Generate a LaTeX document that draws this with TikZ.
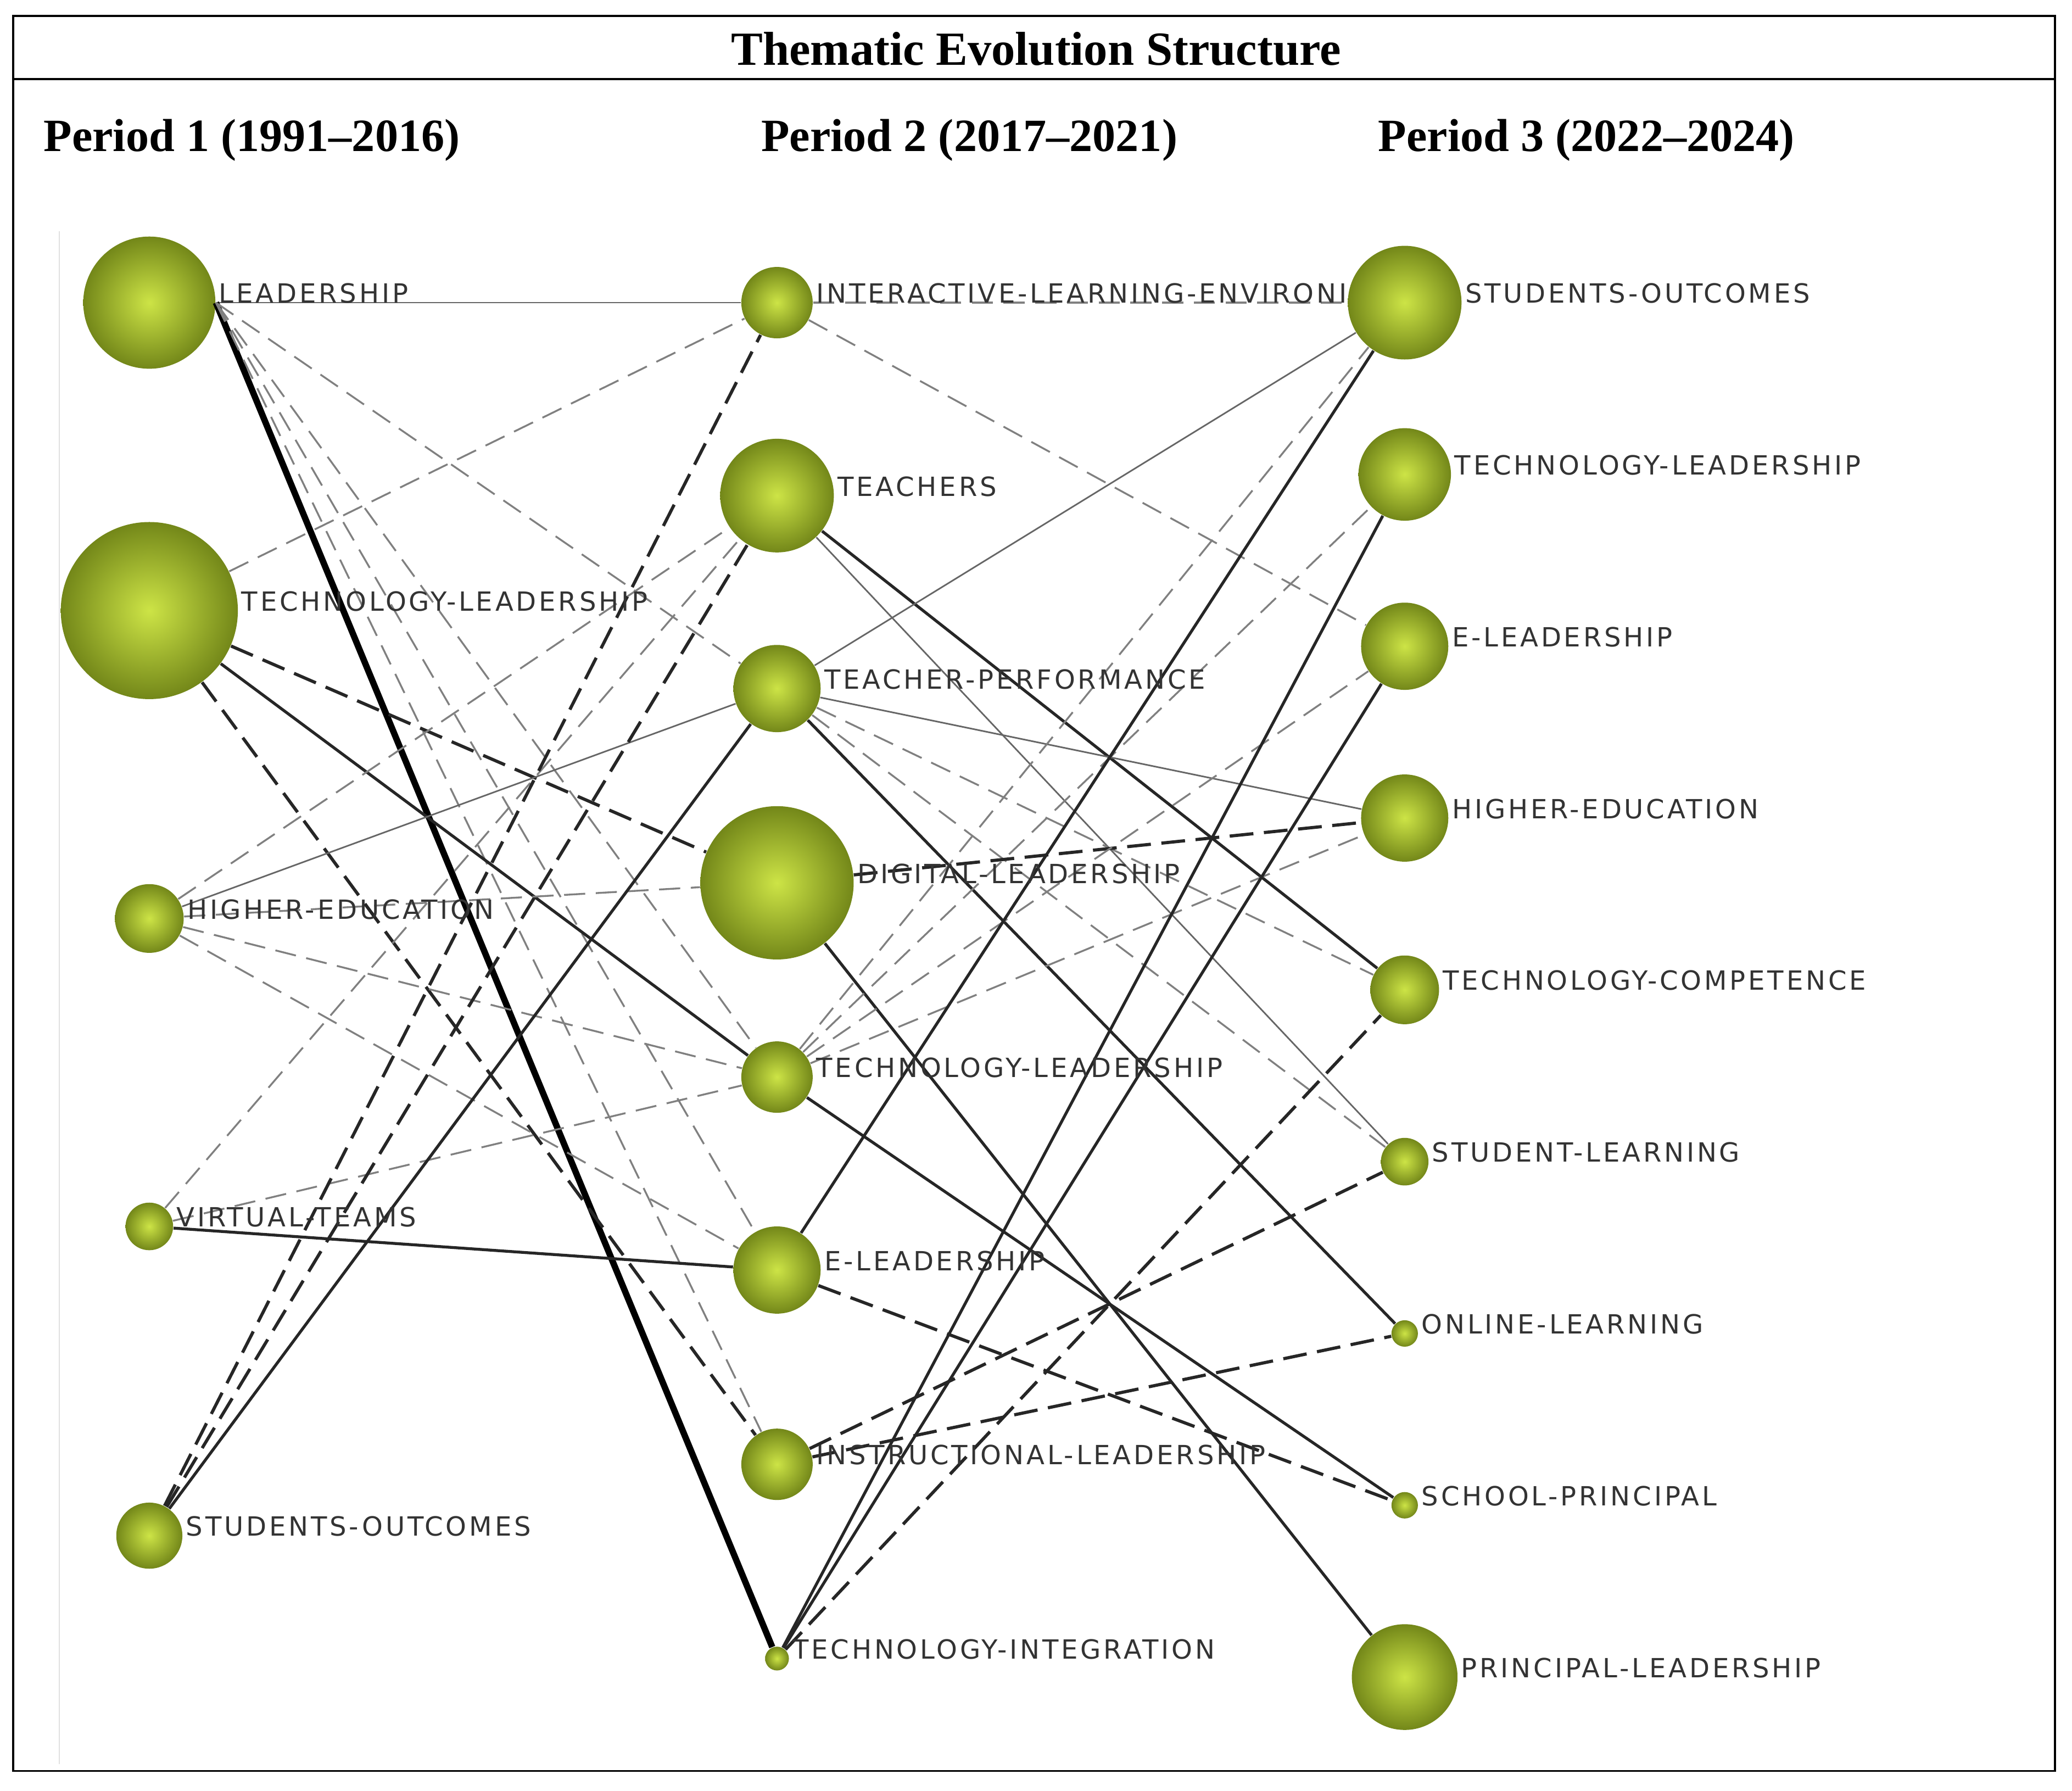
\documentclass[tikz,border=0pt]{standalone}
\usepackage{fontspec}
\setmainfont{Liberation Serif}
\newfontfamily\labfont[LetterSpace=10]{DejaVu Sans}
\usetikzlibrary{positioning}
\tikzset{
  theme/.style={circle, draw=none, inner color={rgb,255:red,205;green,228;blue,70}, outer color={rgb,255:red,115;green,135;blue,25}, minimum size=#1pt, inner sep=0pt},
  lab/.style={anchor=west, inner sep=1pt, yshift=3.5pt, font=\labfont\fontsize{10}{12}\selectfont, text=black!80},
  head/.style={anchor=west, font=\bfseries\fontsize{17.5}{20}\selectfont},
  lnthin/.style={draw=black!60, line width=0.6pt},
  lnsolid/.style={draw=black!85, line width=1.1pt},
  lnheavy/.style={draw=black, line width=2.4pt},
  lndash/.style={draw=black!50, line width=0.7pt, dash pattern=on 8pt off 4pt},
  lnbdash/.style={draw=black!85, line width=1.2pt, dash pattern=on 9pt off 4pt},
}
\begin{document}
\begin{tikzpicture}[x=0.5pt, y=-0.5pt]
\useasboundingbox (0,0) rectangle (1568,1355);
\draw[line width=0.8pt] (10,12) rectangle (1555,1340);
\draw[line width=0.8pt] (10,60) -- (1555,60);
\draw[black!12] (45,175) -- (45,1335);
\node[font=\bfseries\fontsize{18}{21}\selectfont] (title) at (784,37) {Thematic Evolution Structure};
\node[head] (p1) at (26,106) {Period 1 (1991--2016)};
\node[head] (p2) at (569,106) {Period 2 (2017--2021)};
\node[head] (p3) at (1036,106) {Period 3 (2022--2024)};
% period 1
\draw (113,229) node[theme=50](L1){};
\draw (113,462) node[theme=67](TL1){};
\draw (113,695) node[theme=26](HE1){};
\draw (113,928) node[theme=18](VT1){};
\draw (113,1162) node[theme=25](SO1){};
% period 2
\draw (588,229) node[theme=27](ILE){};
\draw (588,375) node[theme=43](T){};
\draw (588,521) node[theme=33](TP){};
\draw (588,668) node[theme=58](DL){};
\draw (588,815) node[theme=27](TL2){};
\draw (588,961) node[theme=33](EL2){};
\draw (588,1108) node[theme=27](IL){};
\draw (588,1255) node[theme=9](TI){};
% period 3
\draw (1063,229) node[theme=43](SO3){};
\draw (1063,359) node[theme=35](TL3){};
\draw (1063,489) node[theme=33](EL3){};
\draw (1063,619) node[theme=33](HE3){};
\draw (1063,749) node[theme=26](TC){};
\draw (1063,879) node[theme=18](SL){};
\draw (1063,1009) node[theme=10](OL){};
\draw (1063,1139) node[theme=10](SP){};
\draw (1063,1269) node[theme=40](PL){};
% links 1 -> 2
\path[lnthin] (L1) edge (ILE);
\path[lnheavy] (L1.east) edge (TI);
\path[lndash] (L1.east) edge (TP) (L1.east) edge (TL2) (L1.east) edge (EL2) (L1.east) edge (IL);
\path[lndash] (TL1) edge (ILE);
\path[lnbdash] (TL1) edge (DL);
\path[lnsolid] (TL1) edge (TL2);
\path[lnbdash] (TL1) edge (IL);
\path[lnthin] (HE1) edge (TP);
\path[lndash] (HE1) edge (DL) (HE1) edge (TL2) (HE1) edge (EL2) (HE1) edge (T);
\path[lnsolid] (VT1) edge (EL2);
\path[lndash] (VT1) edge (TL2) (VT1) edge (T);
\path[lnbdash] (SO1) edge (ILE) (SO1) edge (T);
\path[lnsolid] (SO1) edge (TP);
% links 2 -> 3
\path[lndash] (ILE) edge (SO3) (ILE) edge (EL3);
\path[lnthin] (T) edge (SL);
\path[lnsolid] (T) edge (TC);
\path[lnthin] (TP) edge (HE3) (TP) edge (SO3);
\path[lnsolid] (TP) edge (OL);
\path[lndash] (TP) edge (TC) (TP) edge (SL);
\path[lnbdash] (DL) edge (HE3);
\path[lnsolid] (DL) edge (PL);
\path[lndash] (TL2) edge (SO3) (TL2) edge (TL3) (TL2) edge (EL3) (TL2) edge (HE3);
\path[lnsolid] (TL2) edge (SP);
\path[lnsolid] (EL2) edge (SO3);
\path[lnbdash] (EL2) edge (SP);
\path[lnbdash] (IL) edge (SL) (IL) edge (OL);
\path[lnsolid] (TI) edge (TL3) (TI) edge (EL3);
\path[lnbdash] (TI) edge (TC);
% labels
\node[lab] at (L1.east) {LEADERSHIP};
\node[lab] at (TL1.east) {TECHNOLOGY-LEADERSHIP};
\node[lab] at (HE1.east) {HIGHER-EDUCATION};
\node[lab] at (VT1.east) {VIRTUAL-TEAMS};
\node[lab] at (SO1.east) {STUDENTS-OUTCOMES};
\node[lab] at (ILE.east) {INTERACTIVE-LEARNING-ENVIRONI};
\node[lab] at (T.east) {TEACHERS};
\node[lab] at (TP.east) {TEACHER-PERFORMANCE};
\node[lab] at (DL.east) {DIGITAL-LEADERSHIP};
\node[lab] at (TL2.east) {TECHNOLOGY-LEADERSHIP};
\node[lab] at (EL2.east) {E-LEADERSHIP};
\node[lab] at (IL.east) {INSTRUCTIONAL-LEADERSHIP};
\node[lab] at (TI.east) {TECHNOLOGY-INTEGRATION};
\node[lab] at (SO3.east) {STUDENTS-OUTCOMES};
\node[lab] at (TL3.east) {TECHNOLOGY-LEADERSHIP};
\node[lab] at (EL3.east) {E-LEADERSHIP};
\node[lab] at (HE3.east) {HIGHER-EDUCATION};
\node[lab] at (TC.east) {TECHNOLOGY-COMPETENCE};
\node[lab] at (SL.east) {STUDENT-LEARNING};
\node[lab] at (OL.east) {ONLINE-LEARNING};
\node[lab] at (SP.east) {SCHOOL-PRINCIPAL};
\node[lab] at (PL.east) {PRINCIPAL-LEADERSHIP};
\end{tikzpicture}
\end{document}
